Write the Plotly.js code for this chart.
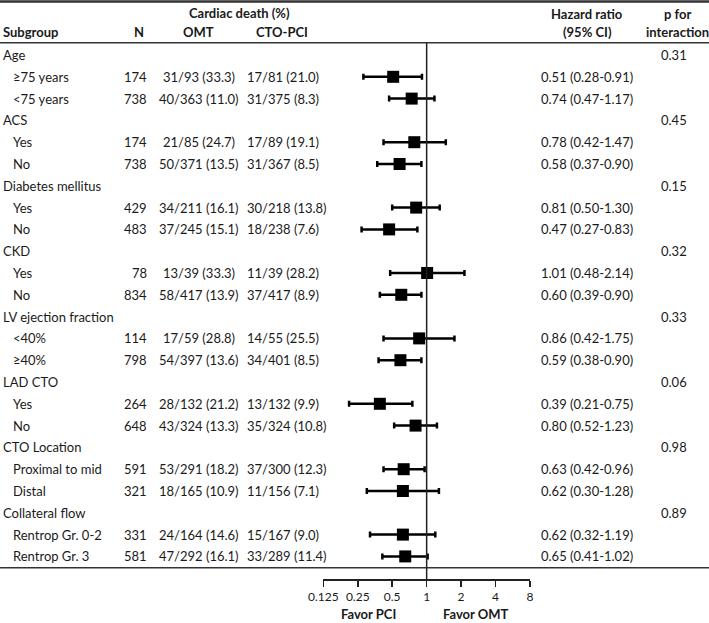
<!DOCTYPE html>
<html><head><meta charset="utf-8">
<script src="https://cdn.plot.ly/plotly-3.0.1.min.js"></script>
<style>html,body{margin:0;padding:0;background:#fff}#chart{width:709px;height:623px}</style>
</head><body><div id="chart"></div>
<script>
// ---- data ----
const labels = ["Age","≥75 years","<75 years","ACS","Yes","No","Diabetes mellitus","Yes","No","CKD","Yes","No",
  "LV ejection fraction","<40%","≥40%","LAD CTO","Yes","No","CTO Location","Proximal to mid","Distal",
  "Collateral flow","Rentrop Gr. 0-2","Rentrop Gr. 3"];
const isGroup = [1,0,0,1,0,0,1,0,0,1,0,0,1,0,0,1,0,0,1,0,0,1,0,0];
const nVals = [null,174,738,null,174,738,null,429,483,null,78,834,null,114,798,null,264,648,null,591,321,null,331,581];
const omt = [null,"31/93 (33.3)","40/363 (11.0)",null,"21/85 (24.7)","50/371 (13.5)",null,"34/211 (16.1)","37/245 (15.1)",
  null,"13/39 (33.3)","58/417 (13.9)",null,"17/59 (28.8)","54/397 (13.6)",null,"28/132 (21.2)","43/324 (13.3)",
  null,"53/291 (18.2)","18/165 (10.9)",null,"24/164 (14.6)","47/292 (16.1)"];
const pci = [null,"17/81 (21.0)","31/375 (8.3)",null,"17/89 (19.1)","31/367 (8.5)",null,"30/218 (13.8)","18/238 (7.6)",
  null,"11/39 (28.2)","37/417 (8.9)",null,"14/55 (25.5)","34/401 (8.5)",null,"13/132 (9.9)","35/324 (10.8)",
  null,"37/300 (12.3)","11/156 (7.1)",null,"15/167 (9.0)","33/289 (11.4)"];
const hr = [null,0.51,0.74,null,0.78,0.58,null,0.81,0.47,null,1.01,0.60,null,0.86,0.59,null,0.39,0.80,null,0.63,0.62,null,0.62,0.65];
const lo = [null,0.28,0.47,null,0.42,0.37,null,0.50,0.27,null,0.48,0.39,null,0.42,0.38,null,0.21,0.52,null,0.42,0.30,null,0.32,0.41];
const hi = [null,0.91,1.17,null,1.47,0.90,null,1.30,0.83,null,2.14,0.90,null,1.75,0.90,null,0.75,1.23,null,0.96,1.28,null,1.19,1.02];
const pInt = ["0.31",null,null,"0.45",null,null,"0.15",null,null,"0.32",null,null,"0.33",null,null,"0.06",null,null,"0.98",null,null,"0.89",null,null];
const tickVals = [0.125,0.25,0.5,1,2,4,8];
const tickText = ["0.125","0.25","0.5","1","2","4","8"];

// ---- layout helpers ----
const W = 709, H = 623;
const FONT = "Lato, 'Open Sans', sans-serif";
const row0 = 55, rowH = 21.8;
const yTop = -row0/rowH, yBot = (H-row0)/rowH;
const px = v => v / W;            // x pixel -> paper
const py = v => 1 - v / H;        // y pixel -> paper

const rows = labels.map((_, i) => i);
const fs = 13;
const TC = '#1a1a1a';
const ann = [];
function txt(x, y, text, opts) {
  ann.push(Object.assign({x: x, y: y, xref: 'paper', yref: 'y', text: text, showarrow: false,
    font: {family: FONT, size: fs, color: TC}, xanchor: 'left', yanchor: 'middle'}, opts || {}));
}
rows.forEach(i => {
  txt(px(isGroup[i] ? 1 : 11), i, labels[i]);
  if (nVals[i] != null) txt(px(149), i, String(nVals[i]), {xanchor: 'right'});
  if (omt[i]) txt(px(199), i, omt[i], {xanchor: 'center'});
  if (pci[i]) txt(px(245), i, pci[i]);
  if (hr[i] != null) txt(px(539), i, hr[i].toFixed(2) + " (" + lo[i].toFixed(2) + "-" + hi[i].toFixed(2) + ")");
  if (pInt[i]) txt(px(674), i, pInt[i], {xanchor: 'center'});
});
// headers (paper coords)
function hdr(x, y, text, anchor) {
  ann.push({x: px(x), y: py(y), xref: 'paper', yref: 'paper', text: '<b>' + text + '</b>', showarrow: false,
    font: {family: FONT, size: fs, color: TC}, xanchor: anchor || 'center', yanchor: 'middle'});
}
hdr(240, 13, "Cardiac death (%)");
hdr(1, 32, "Subgroup", 'left');
hdr(139, 32, "N");
hdr(198, 32, "OMT");
hdr(282, 32, "CTO-PCI");
hdr(587, 14, "Hazard ratio");
hdr(587, 32, "(95% CI)");
hdr(677, 14, "p for");
hdr(677, 32, "interaction");
hdr(368, 614, "Favor PCI");
hdr(476, 614, "Favor OMT");

const idx = rows.filter(i => hr[i] != null);
const trace = {
  type: 'scatter', mode: 'markers',
  x: idx.map(i => hr[i]), y: idx.map(i => i),
  marker: {symbol: 'square', size: 12, color: '#000'},
  error_x: {type: 'data', symmetric: false,
    array: idx.map(i => hi[i] - hr[i]), arrayminus: idx.map(i => hr[i] - lo[i]),
    color: '#000', thickness: 2.5, width: 3},
  hoverinfo: 'skip', showlegend: false, cliponaxis: false
};

const axL = 323.3, axR = 530;
const layout = {
  width: W, height: H,
  margin: {l: 0, r: 0, t: 0, b: 0},
  paper_bgcolor: '#fff', plot_bgcolor: 'rgba(0,0,0,0)',
  showlegend: false,
  xaxis: {type: 'log', range: [Math.log10(0.125), Math.log10(8)], domain: [px(axL), px(axR)],
    anchor: 'free', position: (H - 579) / H,
    tickvals: tickVals, ticktext: tickText, ticks: 'outside', ticklen: 6, tickwidth: 1.5, tickcolor: '#222',
    showline: true, linecolor: '#222', linewidth: 1.5, showgrid: false, zeroline: false,
    tickfont: {family: FONT, size: 12, color: TC}, fixedrange: true},
  yaxis: {range: [yBot, yTop], domain: [0, 1], visible: false, showgrid: false, zeroline: false, fixedrange: true},
  shapes: [
    {type: 'line', xref: 'paper', yref: 'paper', x0: 0, x1: 1, y0: py(1.5), y1: py(1.5), line: {color: '#333', width: 2.5}},
    {type: 'line', xref: 'paper', yref: 'paper', x0: 0, x1: 1, y0: py(42.7), y1: py(42.7), line: {color: '#333', width: 1.5}},
    {type: 'line', xref: 'paper', yref: 'paper', x0: 0, x1: 1, y0: py(567.7), y1: py(567.7), line: {color: '#333', width: 1.5}},
    {type: 'line', xref: 'x', yref: 'paper', x0: 1, x1: 1, y0: py(42.7), y1: py(579), line: {color: '#222', width: 1.5}}
  ],
  annotations: ann
};
Plotly.newPlot('chart', [trace], layout, {displayModeBar: false, staticPlot: true});
</script></body></html>
